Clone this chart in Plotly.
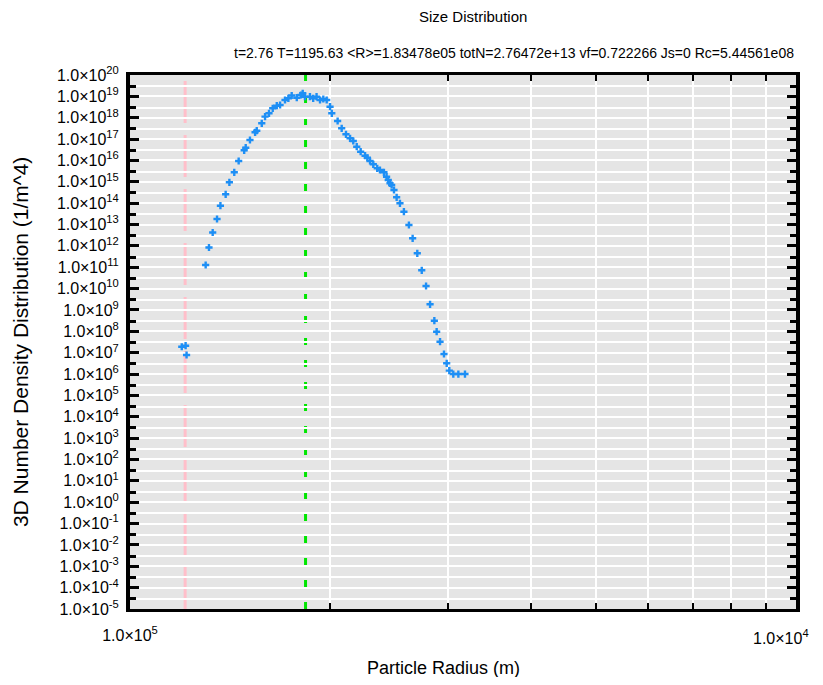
import plotly.graph_objects as go

# ---- data ----
radius = [1.196e-5, 1.212e-5, 1.216e-5,
          1.299e-5, 1.314e-5, 1.331e-5, 1.351e-5, 1.367e-5, 1.392e-5, 1.410e-5,
          1.434e-5, 1.456e-5, 1.484e-5, 1.492e-5, 1.514e-5, 1.541e-5, 1.550e-5,
          1.577e-5, 1.595e-5, 1.617e-5, 1.638e-5, 1.661e-5, 1.680e-5, 1.709e-5,
          1.729e-5, 1.749e-5, 1.780e-5, 1.806e-5, 1.817e-5, 1.831e-5, 1.863e-5,
          1.884e-5, 1.906e-5, 1.929e-5, 1.951e-5, 1.974e-5, 1.997e-5, 2.009e-5,
          2.050e-5, 2.079e-5, 2.110e-5, 2.140e-5, 2.164e-5, 2.190e-5, 2.220e-5,
          2.254e-5, 2.272e-5, 2.293e-5, 2.319e-5, 2.351e-5, 2.373e-5, 2.406e-5,
          2.428e-5, 2.442e-5, 2.457e-5, 2.471e-5, 2.491e-5, 2.514e-5, 2.543e-5,
          2.578e-5, 2.623e-5, 2.657e-5, 2.700e-5, 2.742e-5, 2.783e-5, 2.822e-5,
          2.864e-5, 2.887e-5, 2.921e-5, 2.961e-5, 2.989e-5, 3.016e-5, 3.058e-5,
          3.112e-5, 3.184e-5]
density = [1.9e7, 2.12e7, 7.8e6,
           1.27e11, 8.4e11, 4.23e12, 1.81e13, 7.6e13, 2.6e14, 9.5e14,
           2.79e15, 9.4e15, 2.99e16, 3.95e16, 9.06e16, 2.08e17, 2.47e17,
           5.48e17, 1.12e18, 1.61e18, 2.76e18, 3.66e18, 3.94e18, 6.76e18,
           8.11e18, 1.10e19, 8.65e18, 1.16e19, 1.39e19, 9.64e18, 9.64e18,
           8.11e18, 9.64e18, 6.76e18, 7.52e18, 6.76e18, 3.28e18, 1.61e18,
           7.02e17, 3.20e17, 1.67e17, 1.09e17, 8.13e16, 4.40e16, 2.56e16,
           1.67e16, 1.34e16, 9.42e15, 6.59e15, 4.29e15, 3.57e15, 2.79e15,
           1.73e15, 1.21e15, 8.51e14, 7.08e14, 4.13e14, 1.88e14, 9.86e13,
           3.98e13, 9.5e12, 2.26e12, 4.5e11, 7.19e10, 1.32e10, 1.84e9,
           3.14e8, 9.6e7, 3.27e7, 8.67e6, 3.18e6, 1.44e6, 1.0e6,
           1.0e6, 1.0e6]

mean_radius = 1.83478e-5
pink_radius = 1.21e-5

title_text = "Size Distribution"
info_text = ("t=2.76 T=1195.63 &lt;R&gt;=1.83478e05 totN=2.76472e+13 "
             "vf=0.722266 Js=0 Rc=5.44561e08")
x_title = "Particle Radius (m)"
y_title = "3D Number Density Distribution (1/m^4)"

x_major = [1e-5]
x_major_text = ["1.0×10<sup>5</sup>"]
x_right_label = "1.0×10<sup>4</sup>"
x_minor = [m * 1e-5 for m in (2, 3, 4, 5, 6, 7, 8, 9)]

y_exponents = list(range(-5, 21))
y_major = [10.0 ** e for e in y_exponents]
y_major_text = ["1.0×10<sup>%d</sup>" % e for e in y_exponents]
y_minor = [3 * 10.0 ** e for e in y_exponents[:-1]]

FONT = "Liberation Sans, Arial, sans-serif"

fig = go.Figure()
fig.add_trace(go.Scatter(
    x=radius, y=density, mode="markers",
    marker=dict(symbol="cross", size=6, color="#1e8ff5"),
    showlegend=False,
))

for xv, col, dash in ((pink_radius, "#ffbfca", "42px,12px"),
                      (mean_radius, "#00e600", "7px,15px")):
    fig.add_shape(type="line", xref="x", yref="paper", x0=xv, x1=xv, y0=0, y1=1,
                  line=dict(color=col, width=3, dash=dash), layer="between")

# page body has an 8px margin, so the figure is sized to the window minus 16px
fig.update_layout(
    width=807, height=669,
    margin=dict(l=122, r=19, t=67, b=68),
    paper_bgcolor="white", plot_bgcolor="#e5e5e5",
    font=dict(family=FONT, color="black"),
    showlegend=False,
)

fig.update_xaxes(
    type="log", range=[-5, -4],
    tickmode="array", tickvals=x_major, ticktext=x_major_text,
    ticks="inside", ticklen=9, tickwidth=2, tickcolor="black",
    showgrid=True, gridcolor="white", gridwidth=2,
    showline=True, linecolor="black", linewidth=3, mirror="ticks",
    tickfont=dict(size=16, family=FONT), ticklabelstandoff=10,
    zeroline=False, automargin=False,
    minor=dict(tickmode="array", tickvals=x_minor, ticks="inside", ticklen=6,
               tickwidth=2, tickcolor="black", showgrid=True,
               gridcolor="white", gridwidth=2),
)
fig.update_yaxes(
    type="log", range=[-5, 20],
    tickmode="array", tickvals=y_major, ticktext=y_major_text,
    ticks="inside", ticklen=9, tickwidth=2.5, tickcolor="black",
    showgrid=True, gridcolor="white", gridwidth=2,
    showline=True, linecolor="black", linewidth=4, mirror="ticks",
    tickfont=dict(size=16, family=FONT), ticklabelstandoff=4,
    zeroline=False, automargin=False,
    minor=dict(tickmode="array", tickvals=y_minor, ticks="inside", ticklen=6,
               tickwidth=2.5, tickcolor="black", showgrid=True,
               gridcolor="white", gridwidth=2),
)

fig.add_annotation(text=x_right_label, xref="paper", yref="paper",
                   x=1.022, y=-0.052, xanchor="right", yanchor="middle",
                   showarrow=False, font=dict(size=16, family=FONT))
fig.add_annotation(text=title_text, xref="paper", yref="paper",
                   x=0.515, y=1.11, xanchor="center", yanchor="middle",
                   showarrow=False, font=dict(size=15, family=FONT))
fig.add_annotation(text=info_text, xref="paper", yref="paper",
                   x=1.0, y=1.041, xanchor="right", yanchor="middle",
                   showarrow=False, font=dict(size=14, family=FONT))
fig.add_annotation(text=x_title, xref="paper", yref="paper",
                   x=0.47, y=-0.11, xanchor="center", yanchor="middle",
                   showarrow=False, font=dict(size=18, family=FONT))
fig.add_annotation(text=y_title, xref="paper", yref="paper",
                   x=-0.165, y=0.5, xanchor="center", yanchor="middle",
                   textangle=-90, showarrow=False, font=dict(size=21, family=FONT))

fig.write_html("out.html")
